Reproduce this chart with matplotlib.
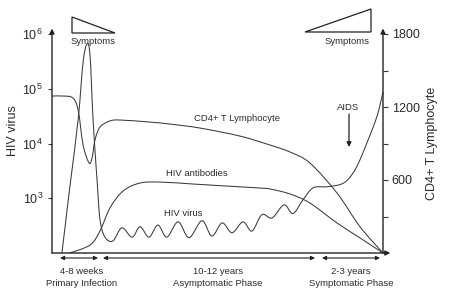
import numpy as np
import matplotlib
matplotlib.use('Agg')
import matplotlib.pyplot as plt
from matplotlib.path import Path
from matplotlib.patches import PathPatch, Polygon
from matplotlib.ticker import NullLocator

plt.rcParams['font.family'] = ['Liberation Sans', 'DejaVu Sans']

W, H = 462, 292
LINE = '#3a3a3a'
TEXT = '#2b2b2b'

# time axis in arbitrary units (0 = infection, 100 = end of symptomatic phase)
# HIV virus load, log10 copies (left axis)
virus_t = [3.0, 5.4, 7.9, 9.4, 10.6, 11.5, 12.4, 13.6, 14.5, 16.0,
           18.4, 21.1, 24.2, 26.6, 29.3, 32.0, 34.7, 38.1, 41.4, 45.3,
           48.3, 51.4, 54.4, 57.7, 60.4, 63.4, 66.5, 70.1, 72.8, 75.8,
           78.9, 83.1, 87.0, 89.4, 92.1, 95.2, 98.2, 100.0]
virus_log = [2.00, 3.21, 4.44, 5.49, 5.82, 5.60, 4.44, 3.34, 2.61, 2.29,
             2.22, 2.46, 2.29, 2.48, 2.29, 2.51, 2.29, 2.57, 2.28, 2.59,
             2.31, 2.55, 2.37, 2.57, 2.40, 2.70, 2.64, 2.88, 2.72, 2.97,
             3.19, 3.21, 3.25, 3.34, 3.58, 4.02, 4.50, 4.94]

# CD4+ T lymphocyte count (right axis)
cd4_t = [0, 3.6, 6.3, 7.9, 9.4, 11.2, 12.1, 13.0, 14.5, 17.5, 20.5,
         29.6, 35.6, 44.7, 56.8, 65.9, 71.9, 77.9, 86.1, 93.1, 100.0]
cd4_val = [1290, 1290, 1274, 1175, 887, 740, 781, 929, 1035, 1085, 1093,
           1076, 1060, 1027, 961, 887, 830, 740, 493, 214, 0]

# HIV antibodies (drawn against the right axis scale)
ab_t = [5.4, 11.5, 14.5, 17.5, 21.5, 26.6, 32.6, 42.6, 52.9, 62.8,
        65.9, 71.9, 77.9, 86.1, 93.1, 100.0]
ab_val = [0, 66, 181, 370, 510, 575, 583, 567, 550, 534,
          526, 485, 411, 247, 123, 0]

left_ticks = [1e3, 1e4, 1e5, 1e6]
left_labels = [r'$\mathregular{10^3}$', r'$\mathregular{10^4}$',
               r'$\mathregular{10^5}$', r'$\mathregular{10^6}$']
right_ticks = [300, 600, 900, 1200, 1500, 1800]
right_labels = ['', '600', '', '1200', '', '1800']


def smooth_path(xs, ys):
    # catmull-rom through the read points, drawn as bezier segments
    p = np.column_stack([xs, ys]).astype(float)
    ext = np.vstack([p[0], p, p[-1]])
    verts, codes = [p[0]], [Path.MOVETO]
    for i in range(len(p) - 1):
        p0, p1, p2, p3 = ext[i], ext[i + 1], ext[i + 2], ext[i + 3]
        verts += [p1 + (p2 - p0) / 6, p2 - (p3 - p1) / 6, p2]
        codes += [Path.CURVE4] * 3
    return np.array(verts), codes


def ff(x, y):
    # pixel position -> figure fraction
    return (x / W, 1 - y / H)


fig = plt.figure(figsize=(W / 100, H / 100), dpi=100)
ax = fig.add_axes([52 / W, 39 / H, 331 / W, 219 / H])
ax.set_yscale('log')
ax.set_xlim(0, 100)
ax.set_ylim(1e2, 1e6)
ax2 = ax.twinx()
ax2.set_ylim(0, 1800)

for a in (ax, ax2):
    for s in a.spines.values():
        s.set_visible(False)
    a.set_xticks([])

ax.set_yticks(left_ticks)
ax.set_yticklabels(left_labels)
ax.yaxis.set_minor_locator(NullLocator())
ax.tick_params(axis='y', length=3.2, width=0.8, pad=3.3, labelsize=9,
               color=LINE, labelcolor=TEXT)
ax2.set_yticks(right_ticks)
ax2.set_yticklabels(right_labels)
ax2.tick_params(axis='y', length=3.4, width=0.8, pad=2.8, labelsize=9,
                color=LINE, labelcolor=TEXT)

# curves
v, c = smooth_path(virus_t, virus_log)
v[:, 1] = 10 ** v[:, 1]
ax.add_patch(PathPatch(Path(v, c), fill=False, lw=0.75, ec=LINE, clip_on=False))
v, c = smooth_path(cd4_t, cd4_val)
ax2.add_patch(PathPatch(Path(v, c), fill=False, lw=0.75, ec=LINE, clip_on=False))
v, c = smooth_path(ab_t, ab_val)
ax2.add_patch(PathPatch(Path(v, c), fill=False, lw=0.75, ec=LINE, clip_on=False))

# axis lines with arrow heads
arr = dict(arrowstyle='-|>', lw=1.0, color='#222222', mutation_scale=7,
           shrinkA=0, shrinkB=0)
ax2.annotate('', xy=(0, 1.025), xytext=(0, 0), xycoords='axes fraction',
             arrowprops=arr, annotation_clip=False)
ax2.annotate('', xy=(1, 1.025), xytext=(1, 0), xycoords='axes fraction',
             arrowprops=arr, annotation_clip=False)
ax2.annotate('', xy=(1.022, 0), xytext=(0, 0), xycoords='axes fraction',
             arrowprops=arr, annotation_clip=False)

# axis titles
fig.text(*ff(13, 131), 'HIV virus', rotation=90, ha='center', va='center',
         fontsize=9, color=TEXT)
fig.text(*ff(432, 143), 'CD4+ T Lymphocyte', rotation=90, ha='center',
         va='center', fontsize=9, color=TEXT)

# curve labels
small = dict(ha='center', va='center', fontsize=6.8, color=TEXT)
fig.text(*ff(237, 118), 'CD4+ T Lymphocyte', **small)
fig.text(*ff(197, 173), 'HIV antibodies', **small)
fig.text(*ff(183, 213), 'HIV virus', **small)
fig.text(*ff(348, 108), 'AIDS', **small)
fig.add_artist(matplotlib.patches.FancyArrowPatch(
    ff(349, 114), ff(349, 147), transform=fig.transFigure, arrowstyle='-|>',
    mutation_scale=7, lw=0.9, color='#222222', shrinkA=0, shrinkB=0))

# symptom wedges
fig.add_artist(Polygon([ff(72, 17), ff(72, 33), ff(115, 33)], closed=True,
                       fill=False, lw=0.9, ec='#222222', transform=fig.transFigure))
fig.add_artist(Polygon([ff(305, 32), ff(371, 32), ff(371, 9)], closed=True,
                       fill=False, lw=0.9, ec='#222222', transform=fig.transFigure))
fig.text(*ff(93, 41), 'Symptoms', **small)
fig.text(*ff(347, 41), 'Symptoms', **small)

# phases along the bottom
phase_x = [(60, 98), (103, 315), (322, 380)]
phase_top = ['4-8 weeks', '10-12 years', '2-3 years']
phase_bottom = ['Primary Infection', 'Asymptomatic Phase', 'Symptomatic Phase']
phase_cx = [82, 218, 351]
for (x0, x1), t1, t2, cx in zip(phase_x, phase_top, phase_bottom, phase_cx):
    fig.add_artist(matplotlib.patches.FancyArrowPatch(
        ff(x0, 258), ff(x1, 258), transform=fig.transFigure,
        arrowstyle='<|-|>', mutation_scale=6, lw=0.8, color='#222222',
        shrinkA=0, shrinkB=0))
    fig.text(*ff(cx, 271), t1, **small)
    fig.text(*ff(cx, 283), t2, **small)

fig.savefig('out.png', dpi=100)
